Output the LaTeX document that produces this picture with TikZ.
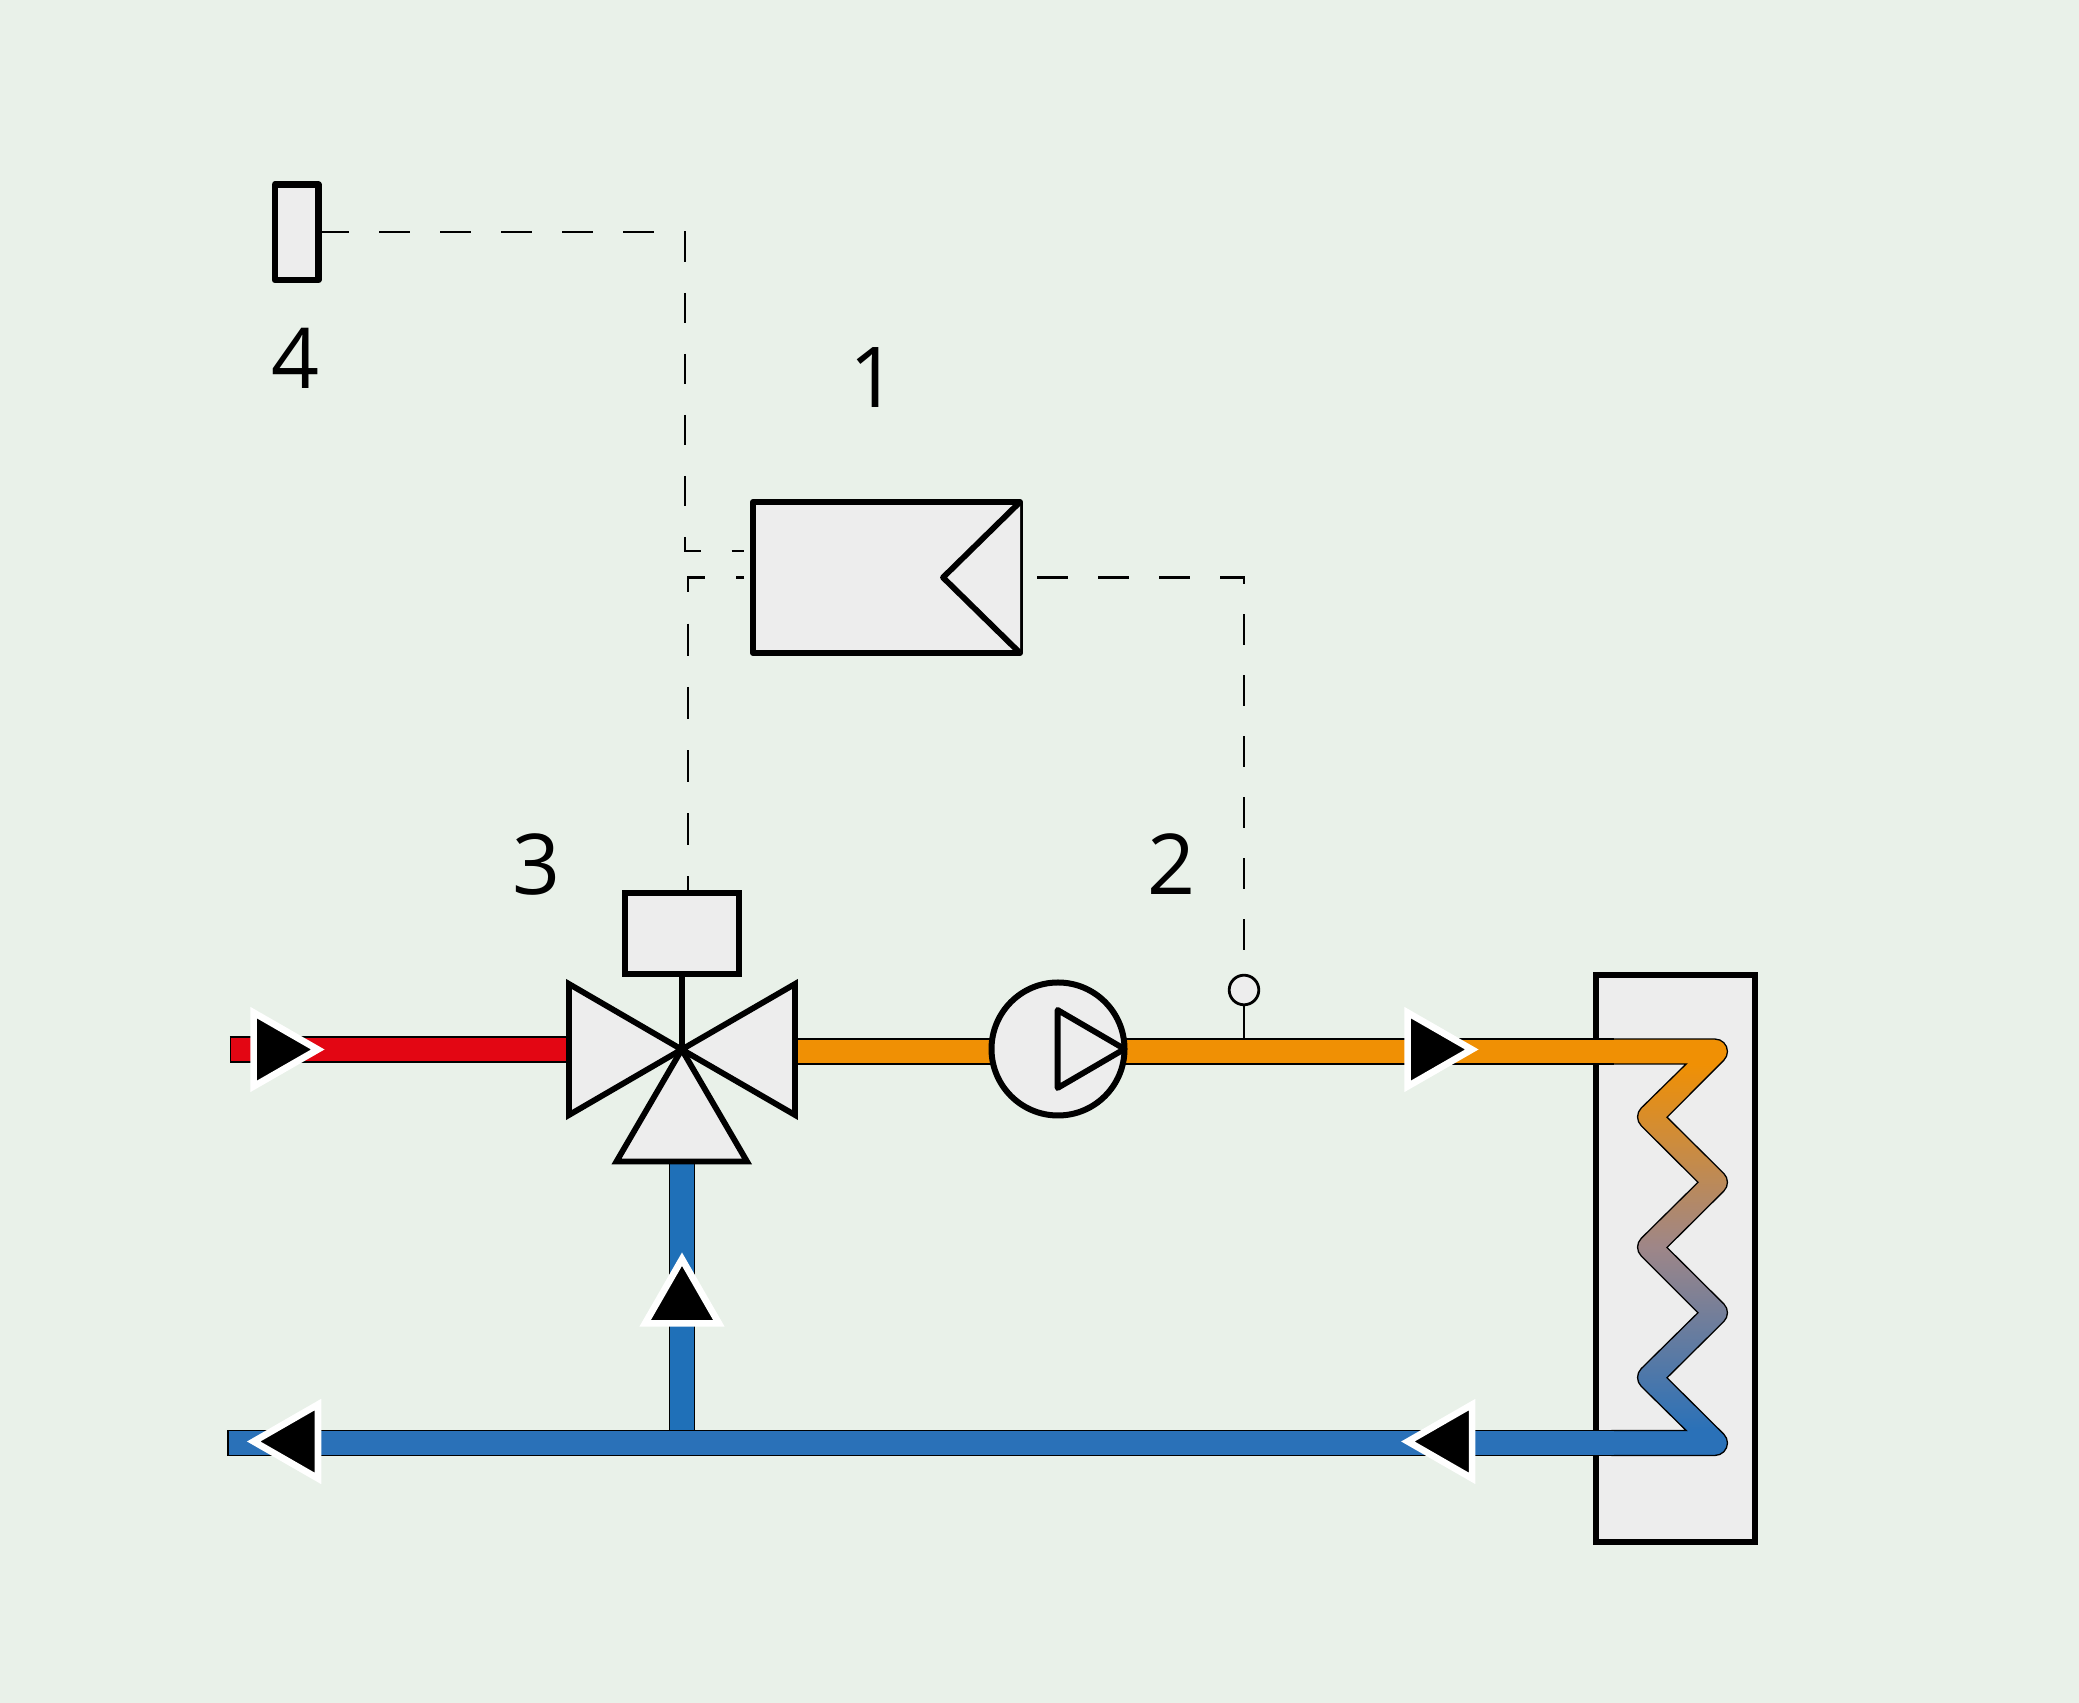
\documentclass[tikz,border=0pt]{standalone}
\usepackage{fontspec}
\setmainfont{Open Sans}
\usepackage{xcolor}
\definecolor{backcolor}{RGB}{233,241,233}
\definecolor{boxcolor}{RGB}{237,237,237}
\definecolor{pipered}{RGB}{227,6,19}
\definecolor{pipeorange}{RGB}{240,144,4}
\definecolor{pipeblue}{RGB}{42,113,184}
\definecolor{riserblue}{RGB}{31,112,184}
\definecolor{coilmiddle}{RGB}{158,134,136}
\pgfdeclareverticalshading{coilfill}{100bp}{color(0bp)=(pipeblue); color(28bp)=(pipeblue); color(50bp)=(coilmiddle); color(72bp)=(pipeorange); color(100bp)=(pipeorange)}
\tikzset{
    symbol-box/.style = {draw=black, fill=boxcolor, line width=3pt, rectangle, inner sep=0pt, outer sep=0pt},
    symbol-line/.style = {draw=black, fill=boxcolor, line width=2.9pt},
    cable/.style = {draw=black, line width=1.1pt, dash pattern=on 15.25pt off 15.25pt},
    pipe/.style = {draw=#1, line width=11.8pt, preaction={draw=black, line width=13.1pt, shorten <=-.6pt}},
    number/.style = {font=\fontsize{42}{42}\selectfont, inner sep=0pt},
    flowtip/.pic = {\filldraw[draw=white, fill=black, line width=3.35pt] (-30.4,-36.9) -- (33.8,0) -- (-30.4,36.9) -- cycle;},
}
\begin{document}
\begin{tikzpicture}[x=.5pt, y=.5pt]
\fill[backcolor] (0,0) rectangle (2079,1703);
\useasboundingbox (0,0) rectangle (2079,1703);
% boxes
\node[symbol-box, line join=round, line width=3.3pt, minimum width=21.65pt, minimum height=47.75pt] (sensor) at (296.7,1470.7) {};
\node[symbol-box, line join=round, minimum width=133.5pt, minimum height=75.5pt] (controller) at (886.5,1125.5) {};
\node[symbol-box, minimum width=56.75pt, minimum height=40.75pt] (actuator) at (681.75,769.25) {};
\node[symbol-box, minimum width=79.5pt, minimum height=283.65pt] (radiator) at (1675.8,444.7) {};
\node[draw=black, fill=boxcolor, circle, line width=1.4pt, minimum size=14.8pt, inner sep=0pt, outer sep=0pt] (tempsensor) at (1244,713) {};
\draw[symbol-line, line join=round] (controller.north east) -- (943,1125.5) -- (controller.south east);
% points on the pipes
\coordinate (valve) at (681.75,653.5);
\coordinate (redin) at (231,653.5);
\coordinate (valvein) at (569,653.5);
\coordinate (valveout) at (795,651.5);
\coordinate (coilin) at (1613.5,651.5);
\coordinate (coilout) at (1613.5,260);
\coordinate (blueout) at (228.6,260);
\coordinate (valveback) at (681.75,542);
\coordinate (tee) at (681.75,260);
\coordinate (sensortap) at (1244,663);
\coordinate (cablebend) at (684.7,1152);
\coordinate (actuatorin) at (687.7,810);
% cables
\draw[cable, shorten >=4.5pt] (sensor.east) -| (cablebend) -- (cablebend -| controller.west);
\draw[cable, shorten <=4.5pt, dash pattern=on 16pt off 15.6pt, dash phase=11.95pt] (controller.west) -| (actuatorin);
\draw[cable, dash phase=22pt] (controller.east) -| (tempsensor.north);
\draw[black, line width=1.4pt] (tempsensor.south) -- (sensortap);
% coil
\path[shade, shading=coilfill, draw=black, line width=.65pt] (1612,663.95) -- (1715,663.95)
    arc[start angle=90, end angle=-45, radius=12.45] -- (1667,585.8) -- (1723.8,529.5)
    arc[start angle=45, end angle=-45, radius=12.45] -- (1667,455.5) -- (1723.8,399.1)
    arc[start angle=45, end angle=-45, radius=12.45] -- (1667,325.2) -- (1723.8,268.8)
    arc[start angle=45, end angle=-90, radius=12.45] -- (1612,247.55) -- (1612,272.45) -- (1686.2,272.45) -- (1641.2,316.7)
    arc[start angle=225, end angle=135, radius=12.45] -- (1698,390.3) -- (1641.2,447)
    arc[start angle=225, end angle=135, radius=12.45] -- (1698,520.7) -- (1641.2,577.3)
    arc[start angle=225, end angle=135, radius=12.45] -- (1686.2,639.05) -- (1612,639.05);
% pipes
\draw[pipe=pipered] (redin) -- (valvein);
\draw[pipe=pipeorange] (valveout) -- (coilin);
\draw[pipe=riserblue] (valveback) -- (tee);
\draw[pipe=pipeblue] (blueout) -- (coilout);
% valve
\draw[symbol-line] (actuator.south) -- (valve);
\draw[symbol-line] (valve) -- (569,719) -- (569,588) -- cycle;
\draw[symbol-line] (valve) -- (795,719) -- (795,588) -- cycle;
\draw[symbol-line] (valve) -- (747,541.5) -- (616.5,541.5) -- cycle;
% pump
\node[draw=black, fill=boxcolor, circle, line width=3pt, minimum size=66.5pt, inner sep=0pt, outer sep=0pt] (pump) at (1058,654) {};
\draw[symbol-line, line join=round, fill=none] (1057.6,693) -- (pump.east) -- (1057.6,615) -- cycle;
% flow direction
\pic (tipred) at (284,653.5) {flowtip};
\pic (tiporange) at (1438,653.5) {flowtip};
\pic[rotate=90] (tipriser) at (682,410) {flowtip};
\pic[rotate=180] (tipcoil) at (1441.7,261.5) {flowtip};
\pic[rotate=180] (tipblue) at (287.5,261.5) {flowtip};
% numbers
\node[number] (label1) at (874,1325) {1};
\node[number] (label2) at (1172,838.5) {2};
\node[number] (label3) at (537,838.5) {3};
\node[number] (label4) at (296,1345) {4};
\end{tikzpicture}
\end{document}
